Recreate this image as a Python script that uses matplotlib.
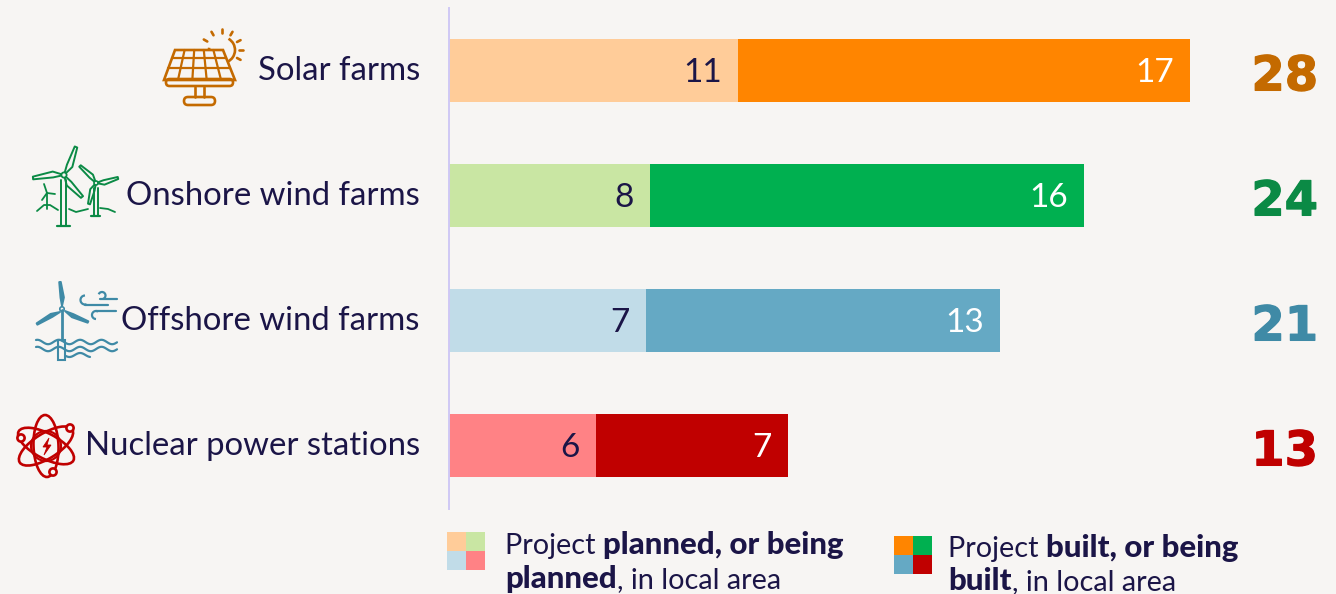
import numpy as np
import matplotlib
matplotlib.use("Agg")
import matplotlib.pyplot as plt
import matplotlib.patheffects as pe
from matplotlib.transforms import ScaledTranslation
from matplotlib.patches import Ellipse, Arc, Rectangle, FancyBboxPatch, Polygon, Circle

W, H = 1336, 594
BG = "#F7F5F3"
INK = "#1B1547"

categories = ["Solar farms", "Onshore wind farms", "Offshore wind farms", "Nuclear power stations"]
# bar lengths, labels are the rounded figures printed on them
planned = [10.93, 7.6, 7.45, 5.56]
built = [17.09, 16.4, 13.38, 7.26]
planned_labels = ["11", "8", "7", "6"]
built_labels = ["17", "16", "13", "7"]
totals = ["28", "24", "21", "13"]

planned_colors = ["#FFCC99", "#C9E6A3", "#C1DCE8", "#FF8285"]
built_colors = ["#FF8500", "#00B050", "#65A9C4", "#C00000"]
total_colors = ["#C46A00", "#0B8A45", "#3F8AA6", "#C00000"]

plt.rcParams["font.family"] = "Lato"
fig = plt.figure(figsize=(W / 100, H / 100), dpi=100, facecolor=BG)

# chart axes, placed in pixels
ax = fig.add_axes([449 / W, 1 - 508.5 / H, (W - 449) / W, (509 - 8) / H])
ax.set_facecolor("none")
ax.set_xlim(0, (W - 449) / 26.45)
ax.set_ylim(3.504, -0.504)
for s in ["top", "right", "bottom"]:
	ax.spines[s].set_visible(False)
ax.spines["left"].set_color("#CFC8F5")
ax.spines["left"].set_linewidth(1.4)
ax.set_xticks([])
ax.set_yticks(range(len(categories)))
ax.set_yticklabels(categories, fontsize=23.7, color=INK, fontweight="normal")
ax.tick_params(axis="y", length=0, pad=21)
up = ScaledTranslation(0, 2 / 72, fig.dpi_scale_trans)
for lab in ax.get_yticklabels():
	lab.set_verticalalignment("center_baseline")
	lab.set_transform(lab.get_transform() + up)

y = np.arange(len(categories))
ax.barh(y, planned, height=0.504, color=planned_colors)
ax.barh(y, built, left=planned, height=0.504, color=built_colors)

for i in y:
	ax.annotate(planned_labels[i], (planned[i], i), xytext=(-11.5, 0.5), textcoords="offset points",
		ha="right", va="center_baseline", fontsize=24, color=INK)
	ax.annotate(built_labels[i], (planned[i] + built[i], i), xytext=(-11.5, 0.5), textcoords="offset points",
		ha="right", va="center_baseline", fontsize=24, color="white")
	t = ax.annotate(totals[i], (1, i), xycoords=("axes fraction", "data"), xytext=(-13, -1), textcoords="offset points",
		ha="right", va="center_baseline", fontsize=34.5, color=total_colors[i], fontweight="bold", family="DejaVu Sans")
	t.set_path_effects([pe.withStroke(linewidth=0.9, foreground=total_colors[i])])

# overlay in pixel coordinates for the icons and legend
ov = fig.add_axes([0, 0, 1, 1])
ov.set_xlim(0, W)
ov.set_ylim(H, 0)
ov.axis("off")


def line(xs, ys, c, lw=1.6, z=4):
	ov.plot(xs, ys, color=c, lw=lw, solid_capstyle="round", solid_joinstyle="round", zorder=z)

def blade(hub, tip, width, c, fill=False):
	hub = np.array(hub, float)
	tip = np.array(tip, float)
	d = tip - hub
	n = np.array([-d[1], d[0]]) / np.hypot(*d)
	pts = [hub, hub + 0.35 * d + n * width, tip + n * width * 0.3, tip - n * width * 0.3, hub + 0.35 * d - n * width * 0.3]
	ov.add_patch(Polygon(pts, closed=True, fill=fill, fc=c, ec=c, lw=1.4, joinstyle="round"))

def solar_icon(c):
	lt, rt, lb, rb = 175, 223, 164, 235
	ov.add_patch(Arc((222, 50), 26, 26, theta1=-60, theta2=190, color=c, lw=1.9))
	for a in [0, 28, -28, -60, -90, -120, -150]:
		r = np.radians(a)
		line([222 + 17 * np.cos(r), 222 + 21 * np.cos(r)], [50 + 17 * np.sin(r), 50 + 21 * np.sin(r)], c, 1.9)
	ov.add_patch(Polygon([(lt, 50), (rt, 50), (rb, 80), (lb, 80)], closed=True, fc=BG, ec=c, lw=1.9, zorder=3))
	for t in np.linspace(0, 1, 6)[1:-1]:
		line([lt + (rt - lt) * t, lb + (rb - lb) * t], [50, 79], c, 1.6)
	for yy in [58, 68]:
		t = (yy - 50) / 30
		line([lt + (lb - lt) * t, rt + (rb - rt) * t], [yy, yy], c, 1.6)
	ov.add_patch(FancyBboxPatch((166, 79), 67, 7, boxstyle="round,pad=0,rounding_size=3.5", fill=False, ec=c, lw=1.9, zorder=4))
	line([195, 195], [87, 97], c, 1.9)
	line([204, 204], [87, 97], c, 1.9)
	ov.add_patch(FancyBboxPatch((184, 97), 31, 8, boxstyle="round,pad=0,rounding_size=4", fill=False, ec=c, lw=1.9))

def onshore_icon(c):
	line([61, 61], [180, 226], c, 1.4)
	line([66, 66], [180, 226], c, 1.4)
	line([57, 70], [226, 226], c, 1.6)
	blade((64, 175), (76, 147), 4.5, c)
	blade((64, 175), (33, 178), 4.5, c)
	blade((64, 175), (82, 197), 4.5, c)
	ov.add_patch(Circle((64, 175), 2.6, fc=BG, ec=c, lw=1.3, zorder=3))
	line([94, 94], [188, 216], c, 1.4)
	line([98, 98], [188, 216], c, 1.4)
	line([91, 100], [216, 216], c, 1.6)
	blade((96, 183), (80, 166), 3.5, c)
	blade((96, 183), (118, 178), 3.5, c)
	blade((96, 183), (89, 204), 3.5, c)
	ov.add_patch(Circle((96, 183), 2, fc=BG, ec=c, lw=1.2, zorder=3))
	line([47, 47], [193, 209], c, 1.3)
	line([47, 44], [193, 184], c, 1.3)
	line([47, 55], [193, 194], c, 1.3)
	line([47, 42], [193, 200], c, 1.3)
	line([37, 44, 50, 58], [211, 205, 205, 210], c, 1.3)
	line([69, 76, 88], [209, 212, 209], c, 1.3)
	line([100, 108, 115], [208, 209, 212], c, 1.3)

def offshore_icon(c):
	line([62, 62], [310, 340], c, 2)
	ov.add_patch(Rectangle((58, 340), 7, 20, fill=False, ec=c, lw=1.5))
	blade((62, 306), (60, 282), 2.6, c, True)
	blade((60, 312), (37, 324), 2.6, c, True)
	blade((65, 311), (88, 322), 2.6, c, True)
	ov.add_patch(Circle((62, 309), 2.2, fc=BG, ec=c, lw=1.2, zorder=3))
	xs = np.linspace(36, 117, 120)
	line(xs, 342 + 2.2 * np.sin(xs / 3.4), c, 1.6)
	line(xs, 349 + 2.2 * np.sin(xs / 3.4), c, 1.6)
	xb = np.linspace(66, 90, 40)
	line(xb, 355 + 2 * np.sin(xb / 3.4), c, 1.6)
	line([85, 108], [304.5, 304.5], c, 1.6)
	ov.add_patch(Arc((85, 300), 9, 9, theta1=70, theta2=270, color=c, lw=1.6))
	line([100, 117], [299, 299], c, 1.6)
	ov.add_patch(Arc((102, 295.5), 7, 7, theta1=200, theta2=70, color=c, lw=1.6))
	line([96, 116], [311, 311], c, 1.6)
	ov.add_patch(Arc((96, 315), 8, 8, theta1=90, theta2=300, color=c, lw=1.6))

def nuclear_icon(c):
	cx, cy = 46, 446
	for ang in [28, 88, 148]:
		ov.add_patch(Ellipse((cx, cy), 62, 25, angle=ang, fill=False, ec=c, lw=1.9))
	ov.add_patch(Circle((cx, cy), 15, fill=False, ec=c, lw=1.6))
	for ex, ey in [(70, 428), (21, 438), (53, 472)]:
		ov.add_patch(Circle((ex, ey), 3.6, fc=BG, ec=c, lw=1.9, zorder=3))
	ov.add_patch(Polygon([(49, 438), (43, 447), (47, 447), (44, 455), (51, 445), (47, 445)], closed=True, fc=c, ec=c, lw=0.6, zorder=3))

solar_icon(total_colors[0])
onshore_icon(total_colors[1])
offshore_icon(total_colors[2])
nuclear_icon(total_colors[3])


# legend
def swatch(x0, y0, colors):
	s = 19
	for k, col in enumerate(colors):
		ov.add_patch(Rectangle((x0 + s * (k % 2), y0 + s * (k // 2)), s, s, fc=col, ec="none"))

def runs(x, yy, parts):
	r = fig.canvas.get_renderer()
	for txt, wt in parts:
		size = 22.5 if wt == "black" else 20.8
		t = ov.text(x, yy, txt, fontsize=size, color=INK, fontweight=wt, ha="left", va="baseline")
		x = ov.transData.inverted().transform((t.get_window_extent(r).x1, 0))[0]

swatch(447, 532, planned_colors)
swatch(894, 536, built_colors)
runs(505, 554, [("Project ", "normal"), ("planned, or being", "black")])
runs(505, 588, [("planned", "black"), (", in local area", "normal")])
runs(948, 557, [("Project ", "normal"), ("built, or being", "black")])
runs(948, 590, [("built", "black"), (", in local area", "normal")])

fig.savefig("out.png", dpi=100, facecolor=BG)
